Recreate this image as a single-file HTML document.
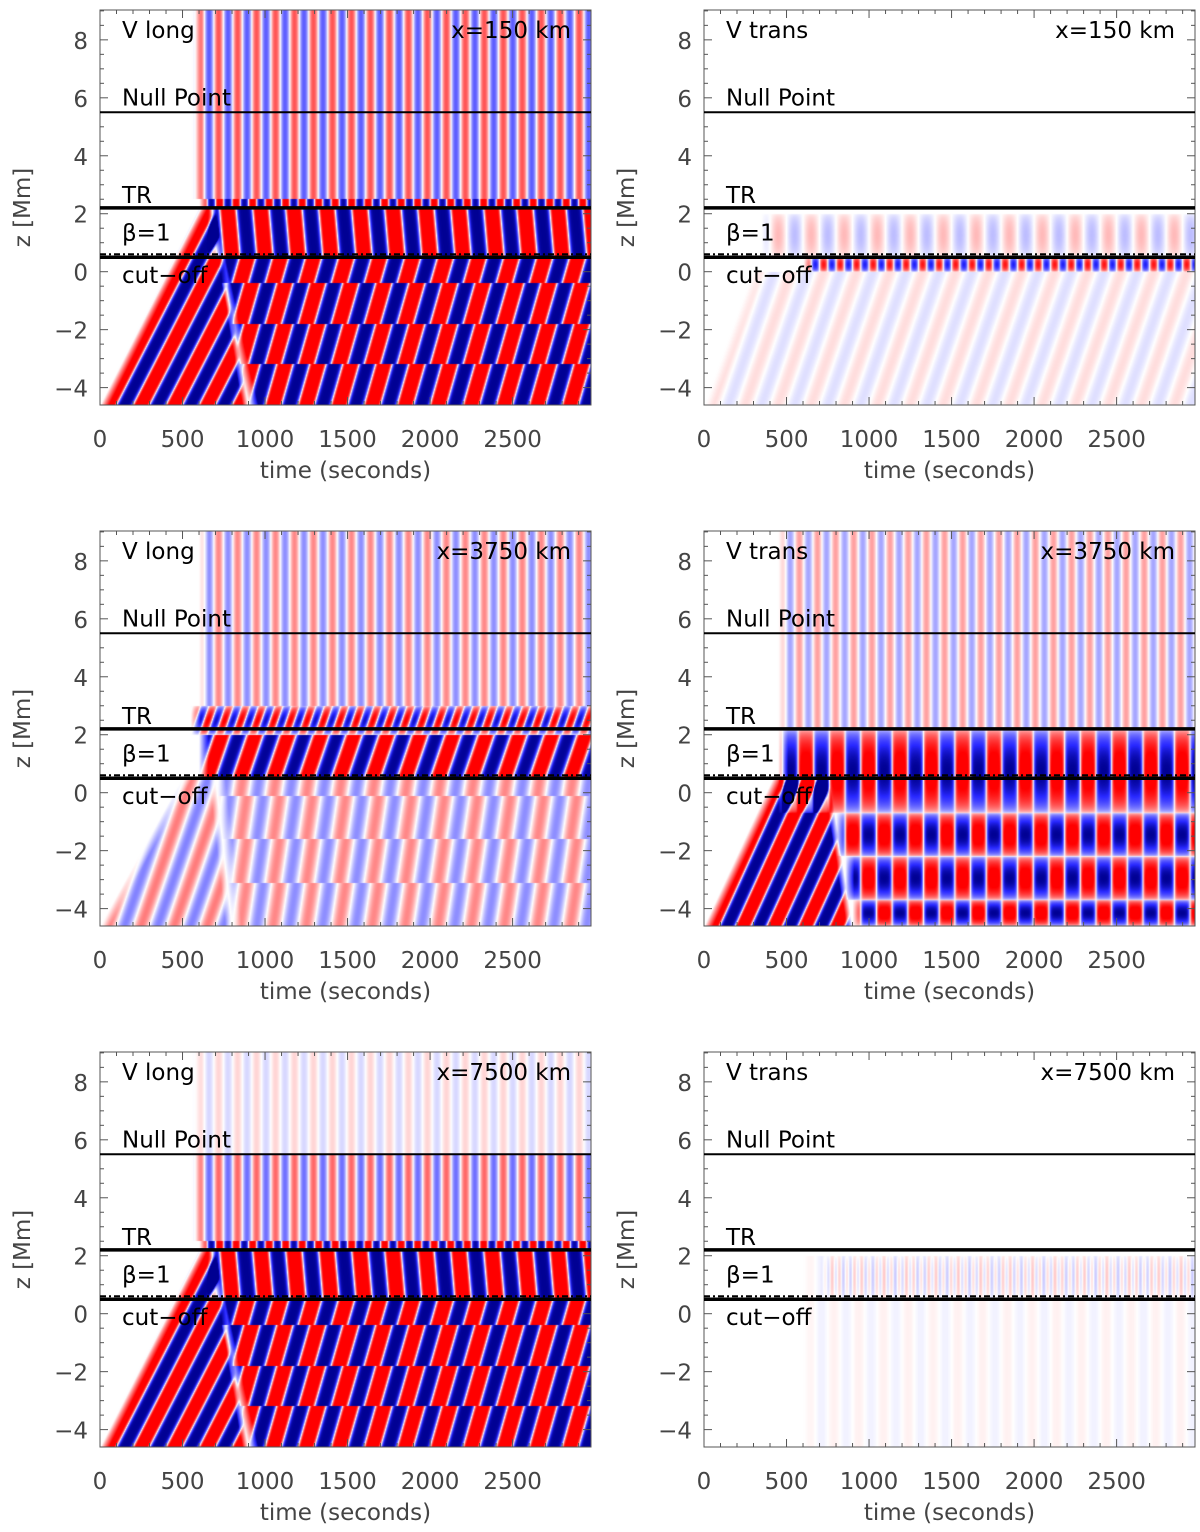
<!DOCTYPE html>
<html><head><meta charset="utf-8"><style>
body{margin:0;background:#fff;width:1200px;height:1532px;position:relative;overflow:hidden;font-family:"DejaVu Sans","Liberation Sans",sans-serif}
canvas{position:absolute}
svg{position:absolute;left:0;top:0}
text{font-family:"DejaVu Sans","Liberation Sans",sans-serif}
</style></head><body>
<div id="root"></div>
<svg id="ov" width="1200" height="1532"></svg>
<script>
// ---- data ----
const zTicks=[-4,-2,0,2,4,6,8];
const tTicks=[0,500,1000,1500,2000,2500];
const panelTitles=["V long","V trans","V long","V trans","V long","V trans"];
const panelPositions=["x=150 km","x=150 km","x=3750 km","x=3750 km","x=7500 km","x=7500 km"];
const refNames=["Null Point","TR","β=1","cut−off"];
const refHeights=[5.5,2.2,0.6,0.5];
// layers: [z0,z1,period,amp,onA,onB,offA,offB,slant,stagH,stagS,ph0,edge]
const layersA=[[-4.6,2.2,200,3,0,600,900,700,90,0,0,0,0],[-4.6,0.5,200,3,900,700,1e9,1e9,0,1.4,70,0,0],[0.5,2.2,200,3,650,650,1e9,1e9,-15,0,0,0.25,0],[2.2,2.5,100,2,600,600,1e9,1e9,0,0,0,0,0],[2.5,9.1,115,0.7,560,560,1e9,1e9,0,0,0,0,0]];
const layersB=[[-4.6,0,200,0.12,0,300,1e9,1e9,60,0,0,0,0],[0,0.5,100,1.2,600,600,1e9,1e9,0,0,0,0,1],[0.5,2.0,200,0.25,350,350,1e9,1e9,0,0,0,0,1]];
const layersC=[[-4.6,0.5,200,0.5,0,500,800,700,60,0,0,0,0],[-4.6,0.5,200,0.45,800,700,1e9,1e9,0,1.5,40,0,0],[0.5,2.0,200,2.5,600,600,1e9,1e9,60,0,0,0,0],[2.0,3.0,100,1.5,550,550,1e9,1e9,60,0,0,0,1],[3.0,9.1,115,0.45,600,600,1e9,1e9,0,0,0,0,0]];
const layersD=[[-4.6,0.5,190,3,0,420,900,760,80,0,0,0,0],[-0.7,2.2,190,3,450,450,1e9,1e9,0,0,0,0,1],[-2.2,-0.7,190,3,800,800,1e9,1e9,0,0,0,0.5,1],[-3.7,-2.2,190,3,850,850,1e9,1e9,0,0,0,0,1],[-4.6,-3.7,190,3,900,900,1e9,1e9,0,0,0,0.5,1],[2.2,9.1,110,0.35,450,450,1e9,1e9,0,0,0,0,0]];
const layersE=[[-4.6,2.2,200,3,0,600,900,700,90,0,0,0,0],[-4.6,0.5,200,3,900,700,1e9,1e9,0,1.4,70,0,0],[0.5,2.2,200,3,650,650,1e9,1e9,-15,0,0,0.25,0],[2.2,2.5,100,2,600,600,1e9,1e9,0,0,0,0,0],[2.5,5.5,115,0.6,560,560,1e9,1e9,0,0,0,0,0],[5.5,9.1,115,0.15,560,560,1e9,1e9,0,0,0,0,0]];
const layersF=[[-4.6,2.0,150,0.05,600,600,1e9,1e9,0,0,0,0,0],[0.5,2.0,45,0.15,700,700,1e9,1e9,0,0,0,0,1]];
const allLayers=[layersA,layersB,layersC,layersD,layersE,layersF];

// ---- geometry ----
const colX=[100,704], rowY=[10,531,1052], PW=491, PH=395;
const zMin=-4.6,zMax=9.03,tMax=2975;
function zy(z,oy){return oy+(zMax-z)/(zMax-zMin)*PH;}
function tx(t,ox){return ox+t/tMax*PW;}
function col(v){v=Math.max(-1,Math.min(1,v));
 if(v>=0){const k=Math.min(1,v/0.9);return [255,255*(1-k),255*(1-k)];}
 const a=-v; if(a<0.8){const k=a/0.8;return [255-215*k,255-215*k,255];}
 const k=(a-0.8)/0.2;return [40-40*k,40-40*k,255-110*k];}
function field(L,t,z){let s=0;
 for(const l of L){const [z0,z1,P,amp,onA,onB,offA,offB,sl,sH,sS,ph0,edge]=l;
  if(z<z0||z>z1)continue;const f=(z-z0)/(z1-z0);
  const on=onA+(onB-onA)*f, off=offA+(offB-offA)*f;
  if(t<on||t>off)continue;
  let env=Math.min(1,(t-on)/60);
  if(off<1e8)env*=Math.min(1,(off-t)/40);
  if(edge)env*=Math.pow(Math.sin(Math.PI*f),0.4);
  const sh=sH?sS*((z-z0)/sH-Math.floor((z-z0)/sH)):0;
  const phase=(t-sl*(z-z0)-sh)/P+ph0;
  s+=Math.tanh(amp*Math.sin(2*Math.PI*phase))*env;}
 return s;}
const svg=document.getElementById('ov');const NS='http://www.w3.org/2000/svg';
function el(tag,attrs,parent){const e=document.createElementNS(NS,tag);for(const k in attrs)e.setAttribute(k,attrs[k]);(parent||svg).appendChild(e);return e;}
for(let p=0;p<6;p++){
 const ox=colX[p%2], oy=rowY[Math.floor(p/2)];
 const cv=document.createElement('canvas');cv.width=PW;cv.height=PH;cv.style.left=ox+'px';cv.style.top=oy+'px';
 
 
 document.body.insertBefore(cv,svg);
 const ctx=cv.getContext('2d');const img=ctx.createImageData(PW,PH);const L=allLayers[p];
 for(let j=0;j<PH;j++){const z=zMax-(j+0.5)/PH*(zMax-zMin);
  for(let i=0;i<PW;i++){const t=(i+0.5)/PW*tMax;const c=col(field(L,t,z));const k=(j*PW+i)*4;
   img.data[k]=c[0];img.data[k+1]=c[1];img.data[k+2]=c[2];img.data[k+3]=255;}}
 ctx.putImageData(img,0,0);
 const g=el('g',{});
 
 
 el('rect',{x:ox,y:oy,width:PW,height:PH,fill:'none',stroke:'#555','stroke-width':1},g);
 for(let z=-4;z<=9;z+=0.5){const y=zy(z,oy);const maj=Number.isInteger(z)&&z%2==0;const len=maj?8:4;
  el('line',{x1:ox,x2:ox+len,y1:y,y2:y,stroke:'#555'},g);el('line',{x1:ox+PW,x2:ox+PW-len,y1:y,y2:y,stroke:'#555'},g);}
 zTicks.forEach(z=>{const tl=el('text',{x:ox-12,y:zy(z,oy)+9,'text-anchor':'end','font-size':23,fill:'#444'},g);tl.textContent=(z<0?'−':'')+Math.abs(z);
  
  });
 for(let t=0;t<=tMax;t+=100){const x=tx(t,ox);const maj=t%500==0;const len=maj?8:4;
  el('line',{x1:x,x2:x,y1:oy+PH,y2:oy+PH-len,stroke:'#555'},g);el('line',{x1:x,x2:x,y1:oy,y2:oy+len,stroke:'#555'},g);}
 tTicks.forEach(t=>{const tl=el('text',{x:tx(t,ox),y:oy+PH+42,'text-anchor':'middle','font-size':23,fill:'#444'},g);tl.textContent=t;
  
  });
 const xl=el('text',{x:ox+PW/2,y:oy+PH+73,'text-anchor':'middle','font-size':23,fill:'#444'},g);xl.textContent='time (seconds)';
 
 
 const yl=el('text',{x:0,y:0,'text-anchor':'middle','font-size':23,fill:'#444',transform:`translate(${ox-70},${oy+PH/2}) rotate(-90)`},g);yl.textContent='z [Mm]';
 
 
 const yN=zy(refHeights[0],oy),yT=zy(refHeights[1],oy),yB=zy(refHeights[2],oy),yC=zy(refHeights[3],oy);
 el('line',{x1:ox,x2:ox+PW,y1:yN,y2:yN,stroke:'#000','stroke-width':2},g);
 el('line',{x1:ox,x2:ox+PW,y1:yT,y2:yT,stroke:'#000','stroke-width':3.5},g);
 el('line',{x1:ox,x2:ox+PW,y1:yB,y2:yB,stroke:'#000','stroke-width':2,'stroke-dasharray':'6,3,2,3'},g);
 el('line',{x1:ox,x2:ox+PW,y1:yC,y2:yC,stroke:'#000','stroke-width':3.5},g);
 const lbl=[[refNames[0],yN-7],[refNames[1],yT-5],[refNames[2],yB-14],[refNames[3],yC+26]];
 lbl.forEach(([s,y])=>{const tl=el('text',{x:ox+22,y:y,'font-size':23,fill:'#000'},g);tl.textContent=s;
  
  });
 const tt=el('text',{x:ox+22,y:oy+28,'font-size':23,fill:'#000'},g);tt.textContent=panelTitles[p];
 
 
 const tp=el('text',{x:ox+PW-20,y:oy+28,'text-anchor':'end','font-size':23,fill:'#000'},g);tp.textContent=panelPositions[p];
 
 
}
</script>
</body></html>
